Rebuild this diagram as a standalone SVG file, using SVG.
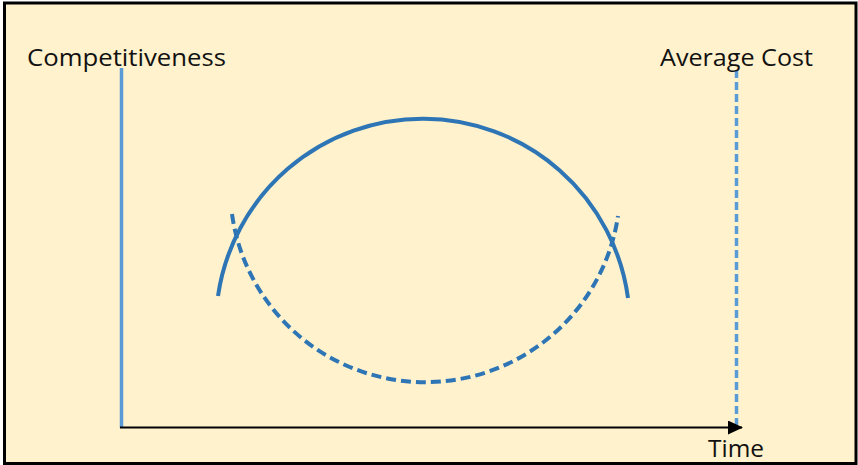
<svg xmlns="http://www.w3.org/2000/svg" width="858" height="465" viewBox="0 0 858 465">
<style>
.lbl{font-family:"Open Sans","Liberation Sans",sans-serif;font-size:24px;fill:#111}
.axis{stroke:#5B9BD5;stroke-width:3.5;fill:none}
.curve{stroke:#2E75B6;stroke-width:4;fill:none}
</style>
<defs>
<marker id="arr" markerWidth="16" markerHeight="14" refX="14" refY="7" orient="auto" markerUnits="userSpaceOnUse">
<path d="M0,0 L15,7 L0,14 Z" fill="#000"/>
</marker>
</defs>
<rect x="0" y="0" width="858" height="465" fill="#fff"/>
<rect x="4.5" y="3" width="851.5" height="460.5" fill="#FFF2CC" stroke="#000" stroke-width="3"/>
<g id="connectors">
<line id="y-axis" class="axis" x1="121.5" y1="68" x2="121.5" y2="428"/>
<line id="cost-axis" class="axis" x1="736.5" y1="70" x2="736.5" y2="425" stroke-dasharray="8 4"/>
<line id="x-axis" x1="120" y1="427.5" x2="742" y2="427.5" stroke="#000" stroke-width="2" marker-end="url(#arr)"/>
</g>
<g id="competitiveness-curve">
<path class="curve" d="M218,296 A207,207 0 0 1 628,298"/>
</g>
<g id="cost-curve">
<path class="curve" stroke-dasharray="10 5" d="M232,214 A195,195 0 0 0 618,216"/>
</g>
<g id="label-competitiveness"><text class="lbl" x="27" y="66" textLength="199" lengthAdjust="spacingAndGlyphs">Competitiveness</text></g>
<g id="label-average-cost"><text class="lbl" x="660" y="66" textLength="153" lengthAdjust="spacingAndGlyphs">Average Cost</text></g>
<g id="label-time"><text class="lbl" x="708" y="457" textLength="56" lengthAdjust="spacingAndGlyphs">Time</text></g>
</svg>
